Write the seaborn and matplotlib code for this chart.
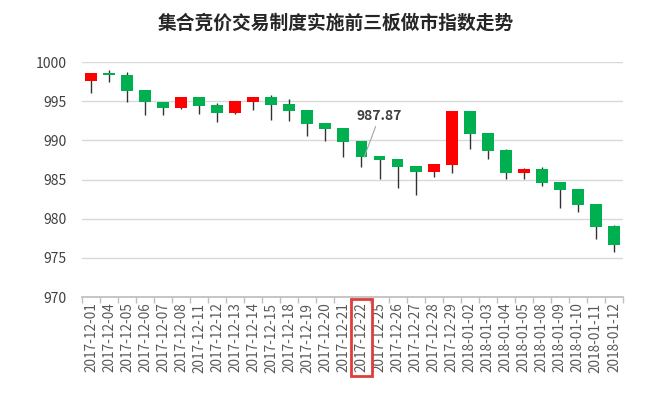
import matplotlib
matplotlib.use("Agg")
import matplotlib.pyplot as plt
import matplotlib.patches as mpatches
import numpy as np
import seaborn as sns

dates = ["2017-12-01", "2017-12-04", "2017-12-05", "2017-12-06", "2017-12-07",
         "2017-12-08", "2017-12-11", "2017-12-12", "2017-12-13", "2017-12-14",
         "2017-12-15", "2017-12-18", "2017-12-19", "2017-12-20", "2017-12-21",
         "2017-12-22", "2017-12-25", "2017-12-26", "2017-12-27", "2017-12-28",
         "2017-12-29", "2018-01-02", "2018-01-03", "2018-01-04", "2018-01-05",
         "2018-01-08", "2018-01-09", "2018-01-10", "2018-01-11", "2018-01-12"]
opens = [997.60, 998.63, 998.34, 996.43, 994.89, 994.17, 995.53, 994.51, 993.53, 994.93,
         995.53, 994.64, 993.87, 992.21, 991.53, 989.96, 988.00, 987.66, 986.72, 985.96,
         986.85, 993.74, 990.94, 988.81, 985.87, 986.34, 984.68, 983.79, 981.87, 979.06]
closes = [998.56, 998.30, 996.34, 994.94, 994.17, 995.53, 994.42, 993.53, 995.02, 995.53,
          994.55, 993.74, 992.12, 991.49, 989.83, 987.87, 987.53, 986.63, 986.00, 986.98,
          993.74, 990.85, 988.68, 985.87, 986.34, 984.59, 983.70, 981.78, 978.97, 976.68]
highs = [998.56, 998.98, 998.68, 996.43, 994.89, 995.53, 995.53, 994.73, 995.02, 995.53,
         995.79, 995.32, 993.87, 992.21, 991.53, 989.96, 988.00, 987.66, 986.72, 986.98,
         993.74, 993.74, 990.94, 988.90, 986.51, 986.56, 984.68, 983.79, 981.87, 979.19]
lows = [996.00, 997.41, 994.94, 993.20, 993.20, 993.96, 993.32, 992.34, 993.32, 993.83,
        992.56, 992.43, 990.51, 989.88, 987.83, 986.56, 985.03, 983.88, 983.00, 985.36,
        985.79, 988.85, 987.66, 985.03, 985.10, 984.17, 981.32, 980.81, 977.40, 975.70]
title = "集合竞价交易制度实施前三板做市指数走势"
highlight = "2017-12-22"
highlight_value = 987.87

sns.set_theme(style="white")
plt.rcParams['font.family'] = ['Noto Sans CJK SC', 'DejaVu Sans']

fig = plt.figure(figsize=(6.72, 4.03), dpi=100)
ax = fig.add_axes([0.122, 0.263, 0.805, 0.583])

x = np.arange(len(dates))
opens_a = np.array(opens)
closes_a = np.array(closes)
up = closes_a >= opens_a
colors = np.where(up, "#ff0000", "#00b050")

ax.vlines(x, lows, highs, color="#333333", linewidth=1, zorder=2)
ax.bar(x, np.abs(closes_a - opens_a), bottom=np.minimum(opens_a, closes_a),
       width=0.66, color=colors, zorder=3, linewidth=0)

ax.set_xlim(-0.5, len(dates) - 0.5)
ax.set_ylim(970, 1000)
ax.set_yticks([970, 975, 980, 985, 990, 995, 1000])
ax.yaxis.grid(True, color="#d9d9d9", linewidth=1)
ax.set_axisbelow(True)
for s in ["top", "right", "left"]:
    ax.spines[s].set_visible(False)
ax.spines["bottom"].set_color("#bfbfbf")

ax.set_xticks(x)
ax.set_xticklabels(dates, rotation=90, fontsize=9.8, color="#595959")
ax.set_xticks(np.arange(len(dates) + 1) - 0.5, minor=True)
ax.tick_params(axis="x", which="major", length=0, pad=4)
ax.tick_params(axis="x", which="minor", length=4, color="#bfbfbf", bottom=True)
ax.tick_params(axis="y", length=0, labelsize=10, labelcolor="#404040", pad=11)

fig.suptitle(title, x=0.5, y=0.965, fontsize=13.5, fontweight="bold", color="#262626")

hi = dates.index(highlight)
ax.annotate(f"{highlight_value:.2f}", xy=(hi + 0.15, highlight_value),
            xytext=(hi + 1.0, 992.2), fontsize=10, fontweight="bold", color="#404040",
            ha="center", va="bottom",
            arrowprops=dict(arrowstyle="-", color="#a6a6a6", linewidth=0.8,
                            shrinkA=0, shrinkB=0))

# red box around the highlighted date label
fig.canvas.draw()
lbl = ax.get_xticklabels()[hi]
bb = lbl.get_window_extent().transformed(fig.transFigure.inverted())
rect = mpatches.Rectangle((bb.x0 - 0.005, bb.y0 - 0.008), bb.width + 0.01, bb.height + 0.016,
                          transform=fig.transFigure, fill=False,
                          edgecolor="#e03c3c", linewidth=2)
fig.patches.append(rect)

fig.savefig("out.png", dpi=100)
